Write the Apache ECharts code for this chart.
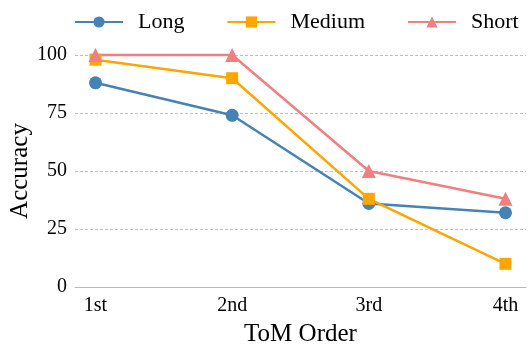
<!DOCTYPE html>
<html><head><meta charset="utf-8">
<script src="https://cdn.jsdelivr.net/npm/echarts@6/dist/echarts.min.js"></script>
<style>html,body{margin:0;padding:0;background:#fff}#c{width:528px;height:348px}</style>
</head><body><div id="c"></div>
<script>
const categories = ['1st', '2nd', '3rd', '4th'];
const longVals = [88, 74, 36, 32];
const mediumVals = [98, 90, 38, 10];
const shortVals = [100, 100, 50, 38];
const yTicks = [0, 25, 50, 75, 100];

const font = "'Liberation Serif', 'Times New Roman', serif";
const chart = echarts.init(document.getElementById('c'));
function pts(arr){ return arr.map((v,i)=>[i,v]); }
function mk(name, data, color, symbol, size){
  return {name, type:'line', data:pts(data), symbol, symbolSize:size, clip:false,
    lineStyle:{color, width:2.5}, itemStyle:{color}, z: 3};
}
chart.setOption({
  animation:false,
  textStyle:{fontFamily:font},
  legend:{top:11, left:74, width:454, padding:0, itemWidth:48, itemHeight:14, itemGap:42,
    textStyle:{fontFamily:font, fontSize:22, color:'#000', padding:[0,0,0,10]},
    data:['Long','Medium','Short']},
  grid:{left:75, right:2, top:55, bottom:61, containLabel:false, outerBoundsMode:'none'},
  xAxis:{type:'value', min:-0.15, max:3.15,
    name:'ToM Order', nameLocation:'middle', nameGap:35, nameMoveOverlap:false,
    nameTextStyle:{fontFamily:font, fontSize:25, color:'#000'},
    axisLine:{show:true, lineStyle:{color:'#bbb', width:1}},
    axisTick:{show:false}, splitLine:{show:false},
    axisLabel:{customValues:[0,1,2,3], formatter:v=>categories[Math.round(v)], fontFamily:font, fontSize:20, color:'#000', margin:9}},
  yAxis:{type:'value', min:0, max:100, interval:25,
    name:'Accuracy', nameLocation:'middle', nameGap:42, nameMoveOverlap:false,
    nameTextStyle:{fontFamily:font, fontSize:25, color:'#000'},
    axisLine:{show:false}, axisTick:{show:false},
    axisLabel:{fontFamily:font, fontSize:20, color:'#000', margin:8, formatter:v=>yTicks.includes(v)?String(v):''},
    splitLine:{show:true, lineStyle:{color:'#b0b0b0', type:[3,2], width:0.8}}},
  series:[
    mk('Long', longVals, '#4682B4', 'circle', 13),
    mk('Medium', mediumVals, '#FFA500', 'rect', 12),
    mk('Short', shortVals, '#F08080', 'triangle', 14)
  ]
});
</script></body></html>
